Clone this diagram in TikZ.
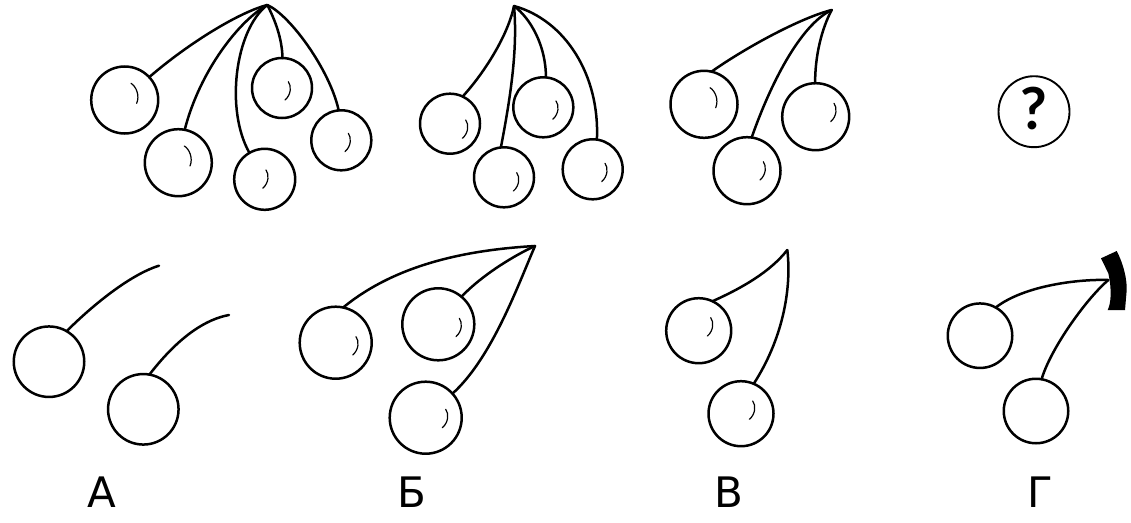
\documentclass[tikz,border=0pt]{standalone}
\usepackage{fontspec}
\setmainfont{DejaVu Sans}
\newfontfamily\qfont{Lato}
\tikzset{
  berry/.style={circle,draw=black,line width=2.5pt,inner sep=0pt,outer sep=0pt,fill=white},
  stem/.style={line width=2.5pt,draw=black,line cap=round},
  shine/.style={line width=1.2pt,draw=black,line cap=round},
  letter/.style={anchor=base,inner sep=0pt,font=\fontsize{42}{42}\selectfont},
  hla/.pic={\draw[shine] (0,0) .. controls (5,3) and (9,12) .. (5.7,20);},
  hlb/.pic={\draw[shine] (0,0) .. controls (3.2,4) and (3,13) .. (-3.3,18.3);}
}
\begin{document}
\begin{tikzpicture}[x=1pt,y=-1pt]
\useasboundingbox (0,0) rectangle (1131,522);
% group 1
\coordinate (ap1) at (267.3,5);
\node[berry,minimum size=67pt] (a1) at (124.7,100) {};
\node[berry,minimum size=67pt] (a2) at (178.3,162.7) {};
\node[berry,minimum size=61pt] (a3) at (264.7,179.3) {};
\node[berry,minimum size=60pt] (a4) at (282,88) {};
\node[berry,minimum size=60pt] (a5) at (341.3,140.3) {};
\draw[stem] (ap1) .. controls (240,12) and (190,42) .. (a1.43);
\draw[stem] (ap1) .. controls (240,20) and (200,70) .. (a2.79);
\draw[stem] (ap1) .. controls (235,30) and (225,110) .. (a3.120.5);
\draw[stem] (ap1) .. controls (275,20) and (282,38) .. (a4.89);
\draw[stem] (ap1) .. controls (290,15) and (330,70) .. (a5.95);
\pic at (131,83.3) {hla};
\pic at (184.3,146) {hla};
\pic at (266,170) {hlb};
\pic at (288.3,81.7) {hlb};
\pic at (348.3,133.3) {hlb};
% group 2
\coordinate (ap2) at (514,6);
\node[berry,minimum size=60pt] (b1) at (450,123.7) {};
\node[berry,minimum size=60pt] (b2) at (504,177.3) {};
\node[berry,minimum size=60pt] (b3) at (543.3,107.3) {};
\node[berry,minimum size=60pt] (b4) at (592.7,169.3) {};
\draw[stem] (ap2) .. controls (508,35) and (485,72) .. (b1.65);
\draw[stem] (ap2) .. controls (518,50) and (510,100) .. (b2.96);
\draw[stem] (ap2) .. controls (530,18) and (546,45) .. (b3.85);
\draw[stem] (ap2) .. controls (565,20) and (600,75) .. (b4.82);
\pic at (465.7,120) {hlb};
\pic at (516.7,172.7) {hlb};
\pic at (556,101) {hlb};
\pic at (605,163.3) {hlb};
% group 3
\coordinate (ap3) at (831.7,10);
\node[berry,minimum size=67pt] (d1) at (704,104.3) {};
\node[berry,minimum size=67pt] (d2) at (747,170.7) {};
\node[berry,minimum size=67pt] (d3) at (815.7,116.7) {};
\draw[stem] (ap3) .. controls (800,18) and (745,48) .. (d1.77);
\draw[stem] (ap3) .. controls (800,25) and (770,85) .. (d2.82);
\draw[stem] (ap3) .. controls (822,28) and (815,55) .. (d3.91);
\pic at (710,87.7) {hla};
\pic at (763.3,161.7) {hlb};
\pic at (834,103.3) {hlb};
% question
\node[circle,draw=black,line width=1.9pt,minimum size=71pt,inner sep=0pt,font=\qfont\bfseries\fontsize{58}{58}\selectfont] (q) at (1034,111.7) {\raisebox{7pt}{?}};
% A
\coordinate (e1) at (159,265.7);
\coordinate (e2) at (229,315);
\node[berry,minimum size=70.5pt] (p1) at (49,361.7) {};
\node[berry,minimum size=70.5pt] (p2) at (143.3,409.3) {};
\draw[stem] (e1) .. controls (135,273) and (100,298) .. (p1.60.8);
\draw[stem] (e2) .. controls (207,319) and (180,335) .. (p2.80.4);
% B
\coordinate (ap5) at (535,246);
\node[berry,minimum size=72pt] (r1) at (335.7,342.7) {};
\node[berry,minimum size=72pt] (r2) at (438.3,324.3) {};
\node[berry,minimum size=72pt] (r3) at (425.7,417.7) {};
\draw[stem] (ap5) .. controls (465,250) and (395,265) .. (r1.78.3);
\draw[stem] (ap5) .. controls (515,255) and (482,275) .. (r2.50.7);
\draw[stem] (ap5) .. controls (518,285) and (492,358) .. (r3.42.6);
\pic at (356,336.7) {hlb};
\pic at (459.3,318.3) {hlb};
\pic at (445.7,409.3) {hlb};
% V
\coordinate (ap6) at (787.3,250);
\node[berry,minimum size=65pt] (s1) at (698.7,330.7) {};
\node[berry,minimum size=65pt] (s2) at (741,413.7) {};
\draw[stem] (ap6) .. controls (770,272) and (742,288) .. (s1.65);
\draw[stem] (ap6) .. controls (792,290) and (782,340) .. (s2.67);
\pic at (710.7,317.7) {hlb};
\pic at (752.7,401) {hlb};
% G
\coordinate (ap7) at (1108.3,280);
\node[berry,minimum size=64.5pt] (t1) at (980,335.7) {};
\node[berry,minimum size=64.5pt] (t2) at (1036,411) {};
\draw[stem] (ap7) .. controls (1080,279) and (1025,285) .. (t1.61);
\draw[stem] (ap7) .. controls (1085,300) and (1050,350) .. (t2.80.5);
\fill[black] (1101,258.3) -- (1116.7,251) .. controls (1124,265) and (1127,280) .. (1126.7,290)
  -- (1125,310) -- (1107.7,310) .. controls (1111,303) and (1112,290) .. (1108.3,273.3) -- cycle;
% labels
\node[letter] (la) at (101.7,507.7) {А};
\node[letter] (lb) at (411.5,507.7) {Б};
\node[letter] (lc) at (728.6,507.7) {В};
\node[letter] (ld) at (1039.8,507.7) {Г};
\end{tikzpicture}
\end{document}
